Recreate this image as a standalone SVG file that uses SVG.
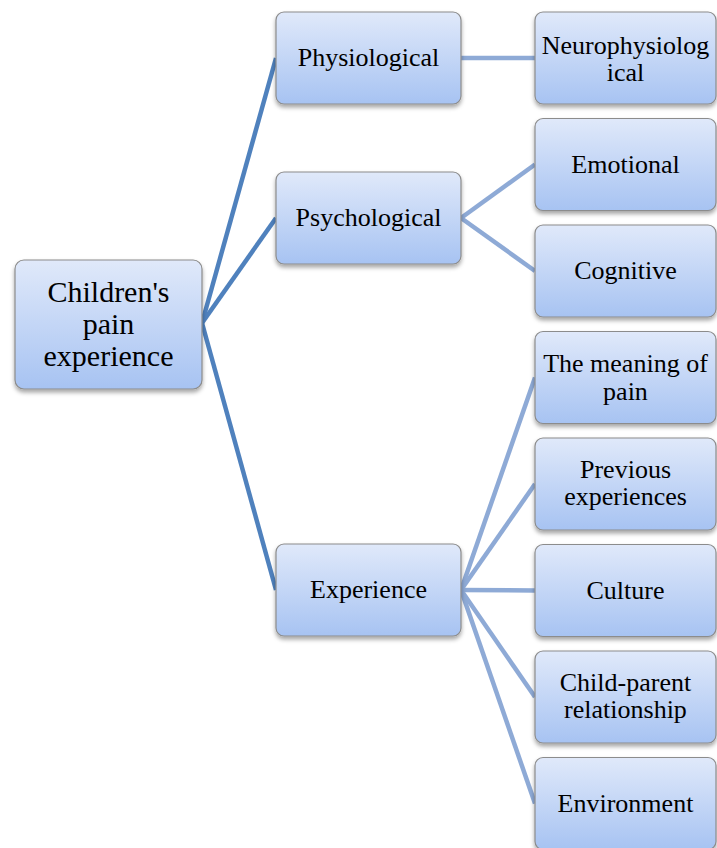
<svg xmlns="http://www.w3.org/2000/svg" width="717" height="848" viewBox="0 0 717 848">
<defs>
<linearGradient id="g" x1="0" y1="0" x2="0" y2="1">
<stop offset="0" stop-color="#e0e9fa"/>
<stop offset="1" stop-color="#a7c3f2"/>
</linearGradient>
<filter id="sh" x="-10%" y="-10%" width="120%" height="130%">
<feDropShadow dx="0" dy="3" stdDeviation="2" flood-color="#000" flood-opacity="0.35"/>
</filter>
<style>
.box{fill:url(#g);stroke:#8c8c8c;stroke-width:1.2;filter:url(#sh)}
.lbl{fill:#000;text-anchor:middle}
.t1{font-size:26px}
.t0{font-size:30px}
.c1{stroke:#4f81bd;stroke-width:4.5;fill:none}
.c2{stroke:#8eaad6;stroke-width:4.5;fill:none}
</style>
</defs>
<rect width="717" height="848" fill="#fff"/>
<g id="connectors">
<line class="c1" x1="202" y1="323" x2="276" y2="58"/>
<line class="c1" x1="202" y1="323" x2="276" y2="218"/>
<line class="c1" x1="202" y1="323" x2="276" y2="590"/>
<line class="c2" x1="461" y1="58" x2="535" y2="58"/>
<line class="c2" x1="461" y1="218" x2="535" y2="164.5"/>
<line class="c2" x1="461" y1="218" x2="535" y2="271"/>
<line class="c2" x1="461" y1="590" x2="535" y2="377.5"/>
<line class="c2" x1="461" y1="590" x2="535" y2="484"/>
<line class="c2" x1="461" y1="590" x2="535" y2="590.5"/>
<line class="c2" x1="461" y1="590" x2="535" y2="697"/>
<line class="c2" x1="461" y1="590" x2="535" y2="803.5"/>
</g>
<g font-family="'Liberation Serif', 'Times New Roman', 'DejaVu Serif', serif">
<g id="root">
<rect class="box" x="15" y="260" width="187" height="129" rx="9"/>
<text class="lbl t0" x="108.5" y="302">Children's</text>
<text class="lbl t0" x="108.5" y="334">pain</text>
<text class="lbl t0" x="108.5" y="366">experience</text>
</g>
<g id="physiological">
<rect class="box" x="276" y="12" width="185" height="92" rx="8"/>
<text class="lbl t1" x="368.5" y="66">Physiological</text>
</g>
<g id="psychological">
<rect class="box" x="276" y="172" width="185" height="92" rx="8"/>
<text class="lbl t1" x="368.5" y="226">Psychological</text>
</g>
<g id="experience">
<rect class="box" x="276" y="544" width="185" height="92" rx="8"/>
<text class="lbl t1" x="368.5" y="598">Experience</text>
</g>
<g id="neurophysiological">
<rect class="box" x="535" y="12" width="181" height="92" rx="8"/>
<text class="lbl t1" x="625.5" y="54">Neurophysiolog</text>
<text class="lbl t1" x="625.5" y="81">ical</text>
</g>
<g id="emotional">
<rect class="box" x="535" y="118.5" width="181" height="92" rx="8"/>
<text class="lbl t1" x="625.5" y="173">Emotional</text>
</g>
<g id="cognitive">
<rect class="box" x="535" y="225" width="181" height="92" rx="8"/>
<text class="lbl t1" x="625.5" y="279">Cognitive</text>
</g>
<g id="meaning">
<rect class="box" x="535" y="331.5" width="181" height="92" rx="8"/>
<text class="lbl t1" x="625.5" y="372">The meaning of</text>
<text class="lbl t1" x="625.5" y="400">pain</text>
</g>
<g id="previous">
<rect class="box" x="535" y="438" width="181" height="92" rx="8"/>
<text class="lbl t1" x="625.5" y="478">Previous</text>
<text class="lbl t1" x="625.5" y="505">experiences</text>
</g>
<g id="culture">
<rect class="box" x="535" y="544.5" width="181" height="92" rx="8"/>
<text class="lbl t1" x="625.5" y="598.5">Culture</text>
</g>
<g id="childparent">
<rect class="box" x="535" y="651" width="181" height="92" rx="8"/>
<text class="lbl t1" x="625.5" y="691">Child-parent</text>
<text class="lbl t1" x="625.5" y="718">relationship</text>
</g>
<g id="environment">
<rect class="box" x="535" y="757.5" width="181" height="92" rx="8"/>
<text class="lbl t1" x="625.5" y="811.5">Environment</text>
</g>
</g>
</svg>
